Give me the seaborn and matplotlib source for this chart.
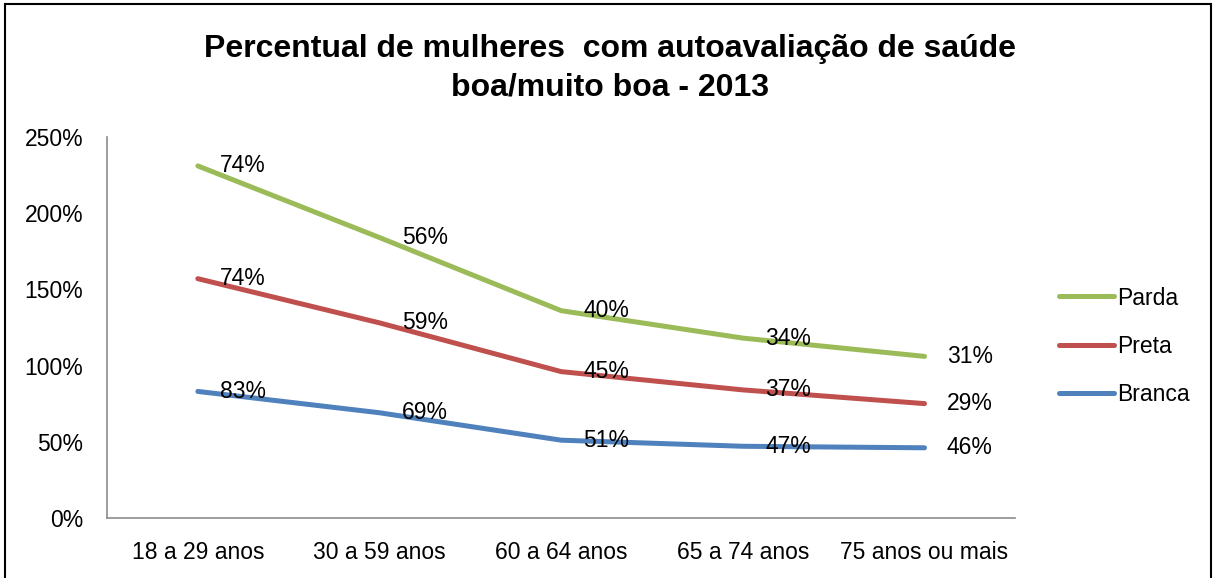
import matplotlib.pyplot as plt
import numpy as np
import pandas as pd
import seaborn as sns
from matplotlib.patches import Rectangle
from matplotlib.ticker import FuncFormatter

categories = ["18 a 29 anos", "30 a 59 anos", "60 a 64 anos", "65 a 74 anos", "75 anos ou mais"]
series = ["Branca", "Preta", "Parda"]
branca = [83, 69, 51, 47, 46]
preta = [74, 59, 45, 37, 29]
parda = [74, 56, 40, 34, 31]
colors = {"Branca": "#4F81BD", "Preta": "#C0504D", "Parda": "#9BBB59"}

sns.set_style("white")
plt.rcParams["font.family"] = ["Liberation Sans", "DejaVu Sans"]
plt.rcParams["text.color"] = "black"
plt.rcParams["xtick.color"] = "black"
plt.rcParams["ytick.color"] = "black"

# stacked line chart: each series sits on top of the previous ones
values = np.array([branca, preta, parda], dtype=float)
stacked = np.cumsum(values, axis=0)
rows = []
for i, s in enumerate(series):
    for j, c in enumerate(categories):
        rows.append({"faixa": c, "x": j, "serie": s, "valor": values[i, j], "acum": stacked[i, j]})
df = pd.DataFrame(rows)

fig = plt.figure(figsize=(12.16, 5.78), dpi=100)
ax = fig.add_axes([0.088, 0.104, 0.747, 0.659])

sns.lineplot(data=df, x="x", y="acum", hue="serie", palette=colors, hue_order=series,
             linewidth=3.6, solid_capstyle="round", ax=ax, legend=False)

for _, r in df.iterrows():
    ax.annotate(f"{int(r['valor'])}%", (r["x"], r["acum"]), xytext=(16, 0),
                textcoords="offset points", ha="left", va="center", fontsize=16.5)

ax.set_xlim(-0.5, len(categories) - 0.5)
ax.set_ylim(0, 250)
ax.set_xticks(range(len(categories)))
ax.set_xticklabels(categories)
ax.set_yticks(np.arange(0, 251, 50))
ax.yaxis.set_major_formatter(FuncFormatter(lambda v, p: f"{int(v)}%"))
ax.tick_params(axis="both", labelsize=16.5, length=0)
ax.tick_params(axis="x", pad=17)
ax.tick_params(axis="y", pad=17)
ax.set_xlabel("")
ax.set_ylabel("")
for side in ["top", "right"]:
    ax.spines[side].set_visible(False)
for side in ["left", "bottom"]:
    ax.spines[side].set_color("#8C8C8C")
    ax.spines[side].set_linewidth(1.2)

handles = [plt.Line2D([], [], color=colors[s], linewidth=3.6, solid_capstyle="round") for s in reversed(series)]
fig.legend(handles, list(reversed(series)), loc="center left", bbox_to_anchor=(0.854, 0.401),
           frameon=False, fontsize=16.5, handlelength=2.4, labelspacing=1.1, handletextpad=0.15)

fig.text(0.502, 0.882, "Percentual de mulheres  com autoavaliação de saúde\nboa/muito boa - 2013",
         ha="center", va="center", fontsize=23, fontweight="bold", linespacing=1.35)

fig.patches.append(Rectangle((0.004, -0.05), 0.992, 1.043, transform=fig.transFigure,
                             fill=False, edgecolor="black", linewidth=1.5))

plt.savefig("out.png", dpi=100)
